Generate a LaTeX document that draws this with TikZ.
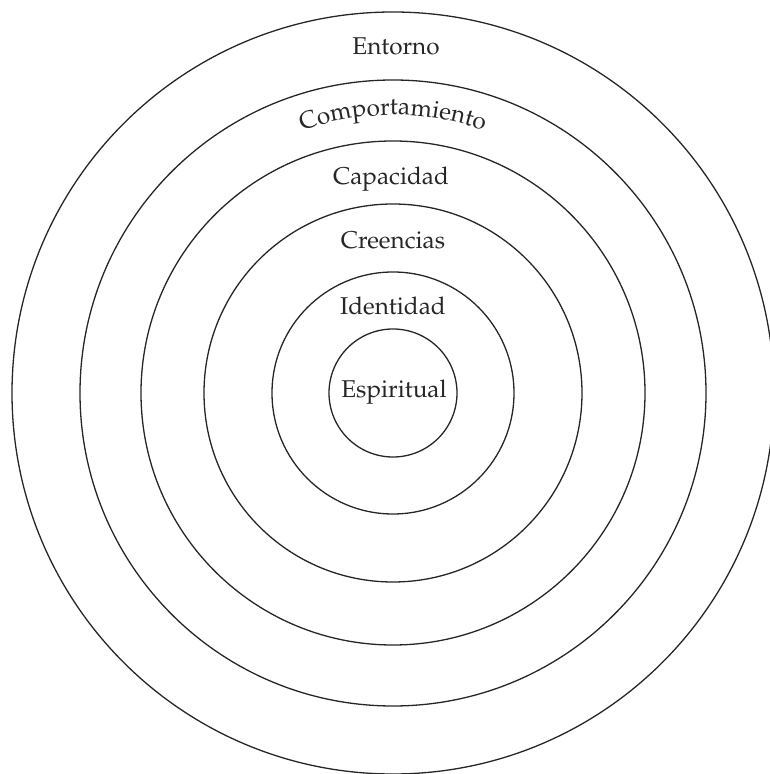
\documentclass[tikz,border=0pt]{standalone}
\usepackage[T1]{fontenc}
\usepackage{mathpazo}
\usepackage{tikz}
\usetikzlibrary{
  positioning,
  decorations.text
}
\colorlet{ink}{black!85}
\newcommand{\RingFont}{\fontsize{24.3}{28}\selectfont}
\tikzset{
  ring/.style={draw=ink, line width=1.3pt},
  ringlabel/.style={anchor=base, inner sep=0pt, text=ink, font=\RingFont}
}

\begin{document}
\begin{tikzpicture}[x=1pt,y=1pt]
  \useasboundingbox (0,0) rectangle (769,774);
  \coordinate (centre) at (393,381);

  % rings, outermost first
  \draw[ring] (centre) circle[radius=381];
  \draw[ring] (centre) circle[radius=313];
  \draw[ring] (centre) circle[radius=252];
  \draw[ring] (centre) circle[radius=189];
  \draw[ring] (centre) circle[radius=121];
  \draw[ring] (centre) circle[radius=64];

  \node[ringlabel] (entorno) at (396,719) {Entorno};
  \path[decorate, decoration={text along path, text align=center,
      text={|\RingFont\color{ink}|Comportamiento}}]
    (centre) ++(111:278) arc[start angle=111, end angle=69, radius=278];
  \node[ringlabel] (capacidad) at (391,589) {Capacidad};
  \node[ringlabel] (creencias) at (393,525) {Creencias};
  \node[ringlabel] (identidad) at (393,459) {Identidad};
  \node[ringlabel] (espiritual) at (394,376) {Espiritual};
\end{tikzpicture}
\end{document}
